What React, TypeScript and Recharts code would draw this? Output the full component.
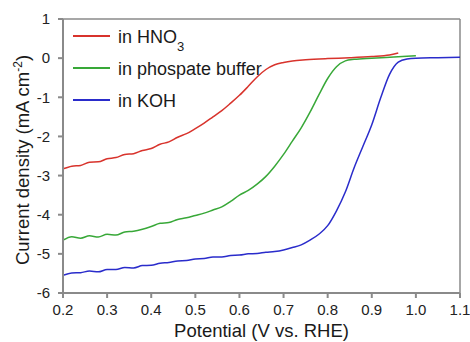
import React from "react";
import { LineChart, Line, XAxis, YAxis, ReferenceLine } from "recharts";

const FONT = '"Liberation Sans", Arial, sans-serif';
const AXIS_GRAY = "#8a8a8a";

// x ticks (V vs. RHE) and y ticks (mA cm-2)
const potentialTicks = [0.2, 0.3, 0.4, 0.5, 0.6, 0.7, 0.8, 0.9, 1.0, 1.1];
const currentTicks = [-6, -5, -4, -3, -2, -1, 0, 1];

// in HNO3
const hno3Potential = [
  0.2, 0.22, 0.24, 0.26, 0.28, 0.3, 0.32, 0.34, 0.36, 0.38, 0.4, 0.42, 0.44,
  0.46, 0.48, 0.5, 0.52, 0.54, 0.56, 0.58, 0.6, 0.62, 0.64, 0.66, 0.68, 0.7,
  0.72, 0.75, 0.8, 0.85, 0.9, 0.94, 0.96,
];
const hno3Current = [
  -2.83, -2.76, -2.74, -2.66, -2.65, -2.57, -2.54, -2.46, -2.44, -2.36, -2.31,
  -2.2, -2.14, -2.02, -1.93, -1.8, -1.66, -1.5, -1.34, -1.15, -0.95, -0.72,
  -0.48, -0.29, -0.17, -0.11, -0.07, -0.04, -0.01, 0.01, 0.04, 0.08, 0.13,
];

// in phospate buffer
const phosphatePotential = [
  0.2, 0.22, 0.24, 0.26, 0.28, 0.3, 0.32, 0.34, 0.36, 0.38, 0.4, 0.42, 0.44,
  0.46, 0.48, 0.5, 0.52, 0.54, 0.56, 0.58, 0.6, 0.62, 0.64, 0.66, 0.68, 0.7,
  0.72, 0.74, 0.76, 0.78, 0.8, 0.82, 0.84, 0.86, 0.9, 0.95, 1.0,
];
const phosphateCurrent = [
  -4.65, -4.56, -4.6, -4.54, -4.57, -4.5, -4.52, -4.44, -4.42, -4.37, -4.3,
  -4.22, -4.2, -4.12, -4.08, -4.02, -3.96, -3.88, -3.8, -3.66, -3.5, -3.38,
  -3.22, -3.02, -2.76, -2.46, -2.12, -1.78, -1.38, -0.94, -0.52, -0.22, -0.07,
  -0.03, 0.0, 0.03, 0.06,
];

// in KOH
const kohPotential = [
  0.2, 0.22, 0.24, 0.26, 0.28, 0.3, 0.32, 0.34, 0.36, 0.38, 0.4, 0.42, 0.44,
  0.46, 0.48, 0.5, 0.52, 0.54, 0.56, 0.58, 0.6, 0.62, 0.64, 0.66, 0.68, 0.7,
  0.72, 0.74, 0.76, 0.78, 0.8, 0.82, 0.84, 0.86, 0.88, 0.9, 0.92, 0.94, 0.96,
  0.98, 1.0, 1.05, 1.1,
];
const kohCurrent = [
  -5.55, -5.49, -5.48, -5.44, -5.46, -5.4, -5.4, -5.35, -5.36, -5.3, -5.29,
  -5.24, -5.22, -5.18, -5.17, -5.13, -5.12, -5.08, -5.08, -5.04, -5.03, -5.0,
  -4.99, -4.96, -4.94, -4.9, -4.84, -4.77, -4.65, -4.5, -4.28, -3.9, -3.42,
  -2.8, -2.25, -1.7, -1.02, -0.42, -0.1, -0.02, 0.0, 0.01, 0.02,
];

const toPoints = (v: number[], j: number[]) =>
  v.map((x, i) => ({ v: x, j: j[i] }));

const series = [
  {
    key: "hno3",
    color: "#d8332c",
    label: (
      <>
        in HNO<tspan baselineShift="sub" fontSize={13}>3</tspan>
      </>
    ),
    data: toPoints(hno3Potential, hno3Current),
  },
  {
    key: "phosphate",
    color: "#38a838",
    label: "in phospate buffer",
    data: toPoints(phosphatePotential, phosphateCurrent),
  },
  {
    key: "koh",
    color: "#2a2ccb",
    label: "in KOH",
    data: toPoints(kohPotential, kohCurrent),
  },
];

function LegendBox() {
  return (
    <svg
      width={220}
      height={100}
      style={{ position: "absolute", left: 73, top: 27, overflow: "visible" }}
    >
      {series.map((s, i) => {
        const y = 9 + i * 32;
        return (
          <g key={s.key}>
            <line x1={0} x2={37} y1={y} y2={y} stroke={s.color} strokeWidth={2} />
            <text x={45} y={y + 6.5} fontSize={18} fontFamily={FONT} fill="#1a1a1a">
              {s.label}
            </text>
          </g>
        );
      })}
    </svg>
  );
}

function YTitle(props: any) {
  const { viewBox } = props;
  const cx = 29;
  const cy = viewBox.y + viewBox.height / 2 + 4;
  return (
    <text
      x={cx}
      y={cy}
      transform={`rotate(-90, ${cx}, ${cy})`}
      textAnchor="middle"
      fontSize={18.5}
      fontFamily={FONT}
      fill="#1a1a1a"
    >
      Current density (mA cm<tspan baselineShift="super" fontSize={12}>-2</tspan>)
    </text>
  );
}

function XTitle(props: any) {
  const { viewBox } = props;
  return (
    <text
      x={viewBox.x + viewBox.width / 2}
      y={viewBox.y + 44}
      textAnchor="middle"
      fontSize={18.5}
      fontFamily={FONT}
      fill="#1a1a1a"
    >
      Potential (V vs. RHE)
    </text>
  );
}

export default function App() {
  return (
    <div style={{ position: "absolute", left: 0, top: 0, width: 470, height: 342, background: "#fff" }}>
      <LineChart
        width={470}
        height={342}
        margin={{ top: 19, right: 10, bottom: 0, left: 0 }}
      >
        <XAxis
          type="number"
          dataKey="v"
          domain={[0.2, 1.1]}
          ticks={potentialTicks}
          interval={0}
          tickFormatter={(v: number) => v.toFixed(1)}
          allowDataOverflow
          height={49}
          stroke={AXIS_GRAY}
          strokeWidth={2}
          tickSize={5}
          tickMargin={6}
          tick={{ fontSize: 15, fontFamily: FONT, fill: "#222" }}
          label={<XTitle />}
        />
        <YAxis
          type="number"
          dataKey="j"
          domain={[-6, 1]}
          ticks={currentTicks}
          interval={0}
          allowDataOverflow
          width={63}
          stroke={AXIS_GRAY}
          strokeWidth={2}
          tickSize={5}
          tickMargin={8}
          tick={{ fontSize: 15, fontFamily: FONT, fill: "#222" }}
          label={<YTitle />}
        />
        <ReferenceLine y={1} stroke={AXIS_GRAY} strokeWidth={1.5} />
        <ReferenceLine x={1.1} stroke={AXIS_GRAY} strokeWidth={1.5} />
        {series.map((s) => (
          <Line
            key={s.key}
            data={s.data}
            dataKey="j"
            name={s.key}
            type="monotone"
            stroke={s.color}
            strokeWidth={1.5}
            dot={false}
            isAnimationActive={false}
          />
        ))}
      </LineChart>
      <LegendBox />
    </div>
  );
}
